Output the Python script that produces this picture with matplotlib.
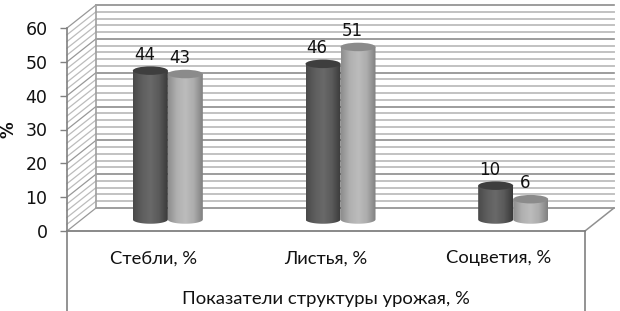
import numpy as np
import matplotlib
matplotlib.use('Agg')
import matplotlib.pyplot as plt
from matplotlib.colors import LinearSegmentedColormap
from matplotlib.patches import Ellipse, PathPatch
from matplotlib.path import Path
from matplotlib.transforms import Affine2D

categories = ['Стебли, %', 'Листья, %', 'Соцветия, %']
series_dark = [44, 46, 10]
series_light = [43, 51, 6]
y_ticks = [0, 10, 20, 30, 40, 50, 60]

label_font = ['Lato', 'Open Sans', 'DejaVu Sans']

W, H = 620, 311
fig = plt.figure(figsize=(W / 100, H / 100), dpi=100, facecolor='white')
ax = fig.add_axes([67 / W, 1 - 231 / H, 518 / W, 203 / H])

# depth of the 3d box in pixels
depth = Affine2D().translate(29, 23)
half_depth = Affine2D().translate(14.5, 11.5)
back_trans = ax.transData + depth
bar_trans = ax.transData + half_depth
label_trans = bar_trans + Affine2D().translate(-6, 0)

ax.set_xlim(0, 3)
ax.set_ylim(0, 60)
units_per_px = 60 / 203
bar_w = 35 / (518 / 3)
ell_h = 8.5 * units_per_px

dark_map = LinearSegmentedColormap.from_list('d', ['#4a4a4a', '#5e5e5e', '#696969', '#5a5a5a', '#3a3a3a'])
light_map = LinearSegmentedColormap.from_list('l', ['#8e8e8e', '#b0b0b0', '#bcbcbc', '#acacac', '#808080'])
grad = np.linspace(0, 1, 64).reshape(1, -1)


def cylinder(x0, value, cmap, top_color):
    x1 = x0 + bar_w
    xm = (x0 + x1) / 2
    # body = rectangle with the lower half of the base ellipse
    t = np.linspace(np.pi, 2 * np.pi, 30)
    xs = xm + np.cos(t) * bar_w / 2
    ys = np.sin(t) * ell_h / 2
    verts = [(x0, value)] + list(zip(xs, ys)) + [(x1, value), (x0, value)]
    path = Path(verts)
    im = ax.imshow(grad, cmap=cmap, aspect='auto', zorder=3,
                   extent=(x0, x1, -ell_h, value), transform=bar_trans)
    patch = PathPatch(path, transform=bar_trans, fc='none', ec='none')
    ax.add_patch(patch)
    im.set_clip_path(patch)
    ax.add_patch(Ellipse((xm, value), bar_w, ell_h, fc=top_color, ec='none',
                         transform=bar_trans, zorder=3.5))


# back wall and side wall grid
for v in range(0, 61, 2):
    major = v % 10 == 0
    col = '#8c8c8c' if major else '#c2c2c2'
    lw = 1.2 if major else 1.4
    ax.plot([0, 3], [v, v], color=col, lw=lw, transform=back_trans, clip_on=False, zorder=1)
    p0 = ax.transData.transform((0, v))
    xs = [p0[0], p0[0] + 29]
    ys = [p0[1], p0[1] + 23]
    ax.plot(xs, ys, color='#989898' if major else '#bcbcbc', lw=0.9, transform=None, clip_on=False, zorder=1)

ax.plot([0, 0], [0, 60], color='#a0a0a0', lw=1.2, transform=back_trans, clip_on=False, zorder=1)
# floor edge on the right
p0 = ax.transData.transform((3, 0))
ax.plot([p0[0], p0[0] + 29], [p0[1], p0[1] + 23], color='#909090', lw=1.1, transform=None, clip_on=False)

for i, (a, b) in enumerate(zip(series_dark, series_light)):
    cylinder(i + 0.5 - bar_w, a, dark_map, '#3e3e3e')
    cylinder(i + 0.5, b, light_map, '#8b8b8b')
    ax.text(i + 0.5 - bar_w / 2, a + 2.1, str(a), transform=label_trans, ha='center', va='bottom',
            fontsize=12, color='#111111', zorder=5)
    ax.text(i + 0.5 + bar_w / 2, b + 2.1, str(b), transform=label_trans, ha='center', va='bottom',
            fontsize=12, color='#111111', zorder=5)

# table-like lines under the floor
low = -80 * units_per_px
ax.plot([0, 0], [0, low], color='#808080', lw=1.2, clip_on=False)
ax.plot([3, 3], [0, low], color='#808080', lw=1.2, clip_on=False)

ax.patch.set_visible(False)
for s in ['top', 'right']:
    ax.spines[s].set_visible(False)
ax.spines['left'].set_color('#808080')
ax.spines['left'].set_linewidth(1.2)
ax.spines['bottom'].set_color('#808080')
ax.spines['bottom'].set_linewidth(1.3)

ax.set_yticks(y_ticks)
ax.tick_params(axis='y', length=5, width=1, color='#808080', labelsize=12.5, pad=9, labelcolor='#111111')
ax.set_xticks([0.5, 1.5, 2.5])
ax.set_xticklabels(categories, fontsize=13.2, family=label_font, color='#111111')
ax.tick_params(axis='x', length=0, pad=14)
ax.set_xlabel('Показатели структуры урожая, %', fontsize=13.3, family=label_font, color='#111111', labelpad=18)
fig.text(8 / W, 1 - 130 / H, '%', rotation=90, fontsize=12, fontweight='bold', ha='center', va='center', color='#111111')

fig.savefig('out.png', dpi=100)
